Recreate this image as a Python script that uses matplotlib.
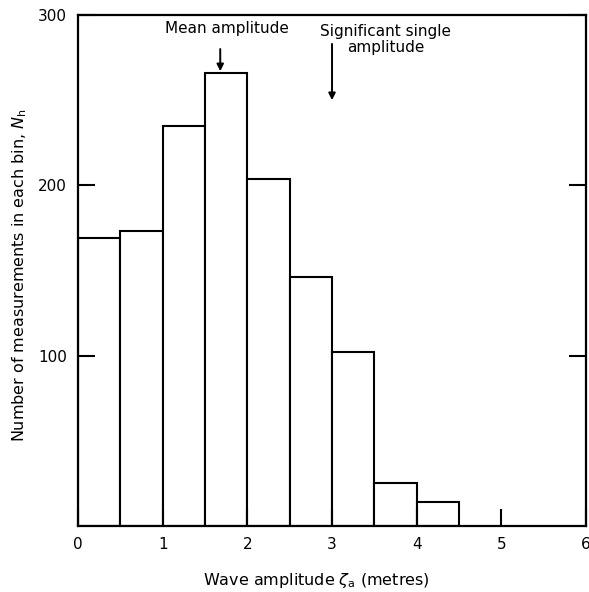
import matplotlib.pyplot as plt
import numpy as np

# Данные гистограммы
bin_left = [0.0, 0.5, 1.0, 1.5, 2.0, 2.5, 3.0, 3.5, 4.0]
counts = [169, 173, 235, 266, 204, 146, 102, 25, 14]
bin_width = 0.5

mean_amp = 1.68
sig_amp = 3.0

x_ticks = [0, 1, 2, 3, 4, 5, 6]
y_ticks = [100, 200, 300]

plt.rcParams['font.family'] = ['DejaVu Sans']
plt.rcParams['mathtext.fontset'] = 'dejavusans'

fig = plt.figure(figsize=(5.89, 5.92), dpi=100)
ax = fig.add_axes([0.1324, 0.1115, 0.8626, 0.8632])

ax.bar(bin_left, counts, width=bin_width, align='edge',
       facecolor='white', edgecolor='black', linewidth=1.5)

ax.set_xlim(0, 6)
ax.set_ylim(0, 300)

for s in ax.spines.values():
    s.set_linewidth(1.6)

ax.set_xticks(x_ticks)
ax.set_yticks(y_ticks)
ax.tick_params(direction='in', length=12, width=1.5, labelsize=11,
               right=True, pad=8)
ax.tick_params(axis='x', pad=8)
ax.set_xticklabels([str(t) for t in x_ticks])
ax.set_yticklabels([str(t) for t in y_ticks])

ax.set_xlabel(r"Wave amplitude $\zeta_\mathrm{a}$ (metres)", fontsize=11.5)
ax.xaxis.set_label_coords(0.47, -0.088)
ax.set_ylabel(r"Number of measurements in each bin, $N_\mathrm{h}$", fontsize=11.5)
ax.yaxis.set_label_coords(-0.097, 0.49)

# Стрелки
ax.annotate("", xy=(mean_amp, 267), xytext=(mean_amp, 280),
            arrowprops=dict(arrowstyle='-|>', color='black', lw=1.4,
                            mutation_scale=10, shrinkA=0, shrinkB=0))
ax.text(1.76, 292, "Mean amplitude", ha='center', va='center', fontsize=11)
ax.annotate("", xy=(sig_amp, 250), xytext=(sig_amp, 283),
            arrowprops=dict(arrowstyle='-|>', color='black', lw=1.4,
                            mutation_scale=10, shrinkA=0, shrinkB=0))
ax.text(3.63, 285.5, "Significant single\namplitude", ha='center', va='center',
        fontsize=11, linespacing=1.1)

fig.savefig("out.png", dpi=100)
